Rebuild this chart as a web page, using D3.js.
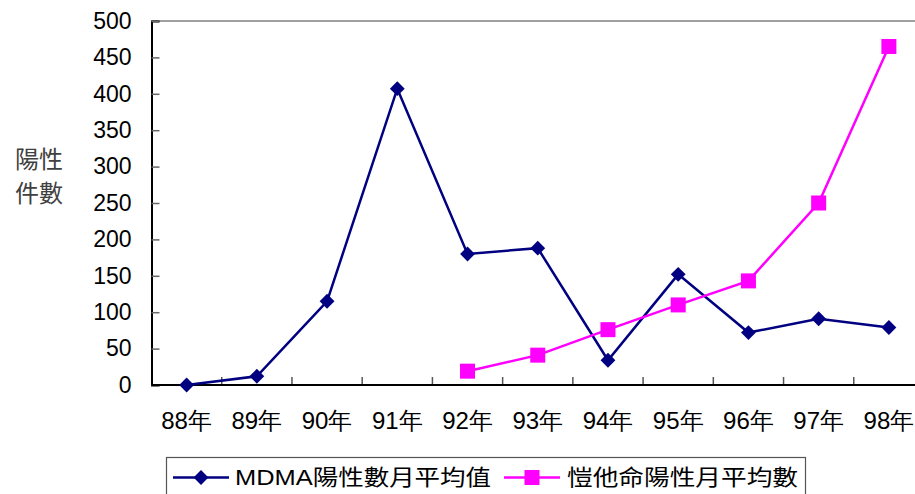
<!DOCTYPE html>
<html>
<head>
<meta charset="utf-8">
<script src="https://cdn.jsdelivr.net/npm/d3@7"></script>
<style>
  html, body { margin: 0; padding: 0; background: #fff; }
  svg { display: block; font-family: "Liberation Sans", Arial, "Noto Sans CJK TC", sans-serif; }
</style>
</head>
<body>
<svg id="chart"></svg>
<script>
const years = ['88年', '89年', '90年', '91年', '92年', '93年', '94年', '95年', '96年', '97年', '98年']
const mdma = [0, 12, 115, 407, 180, 188, 34, 152, 72, 91, 79]
const ketamine = [null, null, null, null, 19, 41, 76, 110, 143, 250, 465]
const yTicks = [0, 50, 100, 150, 200, 250, 300, 350, 400, 450, 500]
const seriesNames = ['MDMA陽性數月平均值', '愷他命陽性月平均數']
const yTitle = ['陽性', '件數']

const width = 915
const height = 494
const plotLeft = 151.5
const plotRight = 924
const plotTop = 21
const plotBottom = 385

const svg = d3.select('#chart')
  .attr('width', width)
  .attr('height', height)
  .attr('viewBox', `0 0 ${width} ${height}`)

const x = d3.scaleBand().domain(years).range([plotLeft, plotRight])
const y = d3.scaleLinear().domain([0, 500]).range([plotBottom, plotTop])
const cx = d => x(d) + x.bandwidth() / 2

// top border of the plot area
svg.append('line')
  .attr('x1', plotLeft).attr('y1', y(500))
  .attr('x2', width).attr('y2', y(500))
  .attr('stroke', '#808080')
  .attr('stroke-width', 1.5)

// y axis
const yAxis = svg.append('g')
  .attr('transform', `translate(${plotLeft},0)`)
  .call(d3.axisLeft(y).tickValues(yTicks).tickSize(-8).tickPadding(20))
yAxis.select('.domain').attr('stroke', '#000').attr('stroke-width', 2)
yAxis.selectAll('.tick line').attr('stroke', '#666').attr('stroke-width', 1.5)
yAxis.selectAll('.tick text')
  .attr('font-size', '23px')
  .attr('font-family', '"Liberation Sans", Arial, sans-serif')
  .attr('fill', '#000')

// x axis: labels at category centres, ticks at category boundaries
const xAxis = svg.append('g')
  .attr('transform', `translate(0,${plotBottom})`)
  .call(d3.axisBottom(x).tickSize(0).tickPadding(27))
xAxis.select('.domain').remove()
xAxis.selectAll('.tick text')
  .attr('font-size', '24px')
  .attr('fill', '#000')

svg.append('g')
  .selectAll('line')
  .data(years.slice(1))
  .join('line')
  .attr('x1', d => x(d)).attr('x2', d => x(d))
  .attr('y1', plotBottom - 8).attr('y2', plotBottom)
  .attr('stroke', '#555')
  .attr('stroke-width', 1.5)

svg.append('line')
  .attr('x1', plotLeft).attr('x2', width)
  .attr('y1', plotBottom).attr('y2', plotBottom)
  .attr('stroke', '#000')
  .attr('stroke-width', 2)

// y title
svg.append('text')
  .attr('x', 39)
  .attr('y', 160)
  .attr('text-anchor', 'middle')
  .attr('fill', '#404040')
  .attr('font-size', '24px')
  .selectAll('tspan')
  .data(yTitle)
  .join('tspan')
  .attr('x', 39)
  .attr('dy', (d, i) => i === 0 ? '0.35em' : '1.38em')
  .text(d => d)

// series
const navy = '#000080'
const magenta = '#ff00ff'

const line = d3.line()
  .defined(d => d.v != null)
  .x(d => cx(d.c))
  .y(d => y(d.v))

const mdmaData = years.map((c, i) => ({ c, v: mdma[i] }))
const ketData = years.map((c, i) => ({ c, v: ketamine[i] })).filter(d => d.v != null)

svg.append('path')
  .datum(mdmaData)
  .attr('d', line)
  .attr('fill', 'none')
  .attr('stroke', navy)
  .attr('stroke-width', 2.5)

svg.append('path')
  .datum(ketData)
  .attr('d', line)
  .attr('fill', 'none')
  .attr('stroke', magenta)
  .attr('stroke-width', 2.5)

const diamond = d3.symbol().type(d3.symbolSquare).size(110)

svg.append('g')
  .selectAll('path')
  .data(mdmaData)
  .join('path')
  .attr('d', diamond)
  .attr('transform', d => `translate(${cx(d.c)},${y(d.v)}) rotate(45)`)
  .attr('fill', navy)

svg.append('g')
  .selectAll('rect')
  .data(ketData)
  .join('rect')
  .attr('x', d => cx(d.c) - 7.5)
  .attr('y', d => y(d.v) - 7.5)
  .attr('width', 15)
  .attr('height', 15)
  .attr('fill', magenta)

// legend
const legend = svg.append('g')
legend.append('rect')
  .attr('x', 166.5)
  .attr('y', 457.5)
  .attr('width', 639)
  .attr('height', 50)
  .attr('fill', '#fff')
  .attr('stroke', '#555')
  .attr('stroke-width', 1.2)

const legendItems = [
  { name: seriesNames[0], color: navy, marker: 'diamond', x0: 173, x1: 229, tx: 235, tw: 256 },
  { name: seriesNames[1], color: magenta, marker: 'square', x0: 504, x1: 560, tx: 567, tw: 231 }
]
const ly = 477.5

legendItems.forEach(it => {
  legend.append('line')
    .attr('x1', it.x0).attr('x2', it.x1)
    .attr('y1', ly).attr('y2', ly)
    .attr('stroke', it.color)
    .attr('stroke-width', 2.5)
  const mx = (it.x0 + it.x1) / 2
  if (it.marker === 'diamond') {
    legend.append('path')
      .attr('d', diamond)
      .attr('transform', `translate(${mx},${ly}) rotate(45)`)
      .attr('fill', it.color)
  } else {
    legend.append('rect')
      .attr('x', mx - 7.5).attr('y', ly - 7.5)
      .attr('width', 15).attr('height', 15)
      .attr('fill', it.color)
  }
  legend.append('text')
    .attr('x', it.tx)
    .attr('y', 484.5)
    .attr('font-size', '22px')
    .attr('fill', '#000')
    .attr('textLength', it.tw)
    .attr('lengthAdjust', 'spacingAndGlyphs')
    .text(it.name)
})
</script>
</body>
</html>
